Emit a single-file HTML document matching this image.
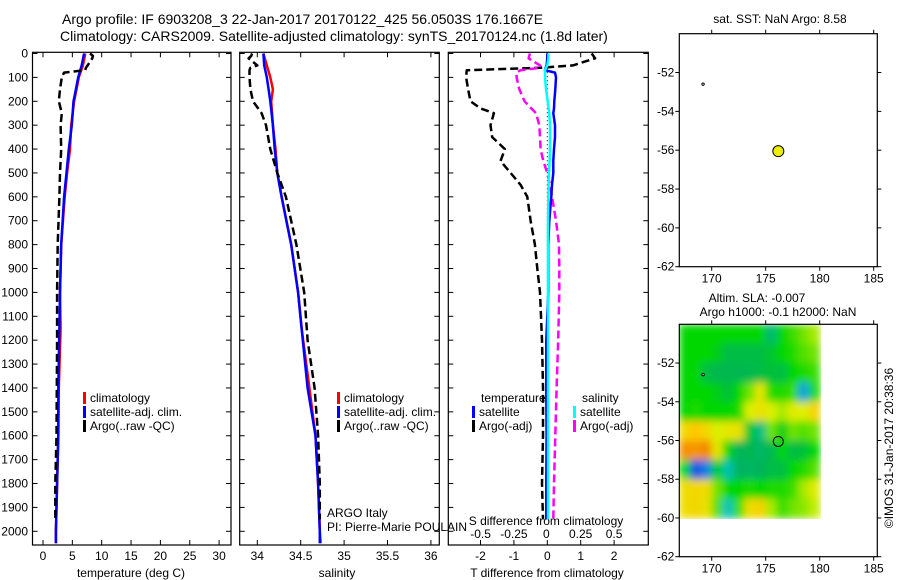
<!DOCTYPE html>
<html><head><meta charset="utf-8">
<style>
html,body{margin:0;padding:0;background:#fff;}
svg{display:block;font-family:"Liberation Sans",sans-serif;font-size:12px;}
</style></head>
<body>
<svg id="fig" width="900" height="580" viewBox="0 0 900 580">
<defs>
<filter id="blur" filterUnits="userSpaceOnUse" x="679.3" y="324.3" width="141.7" height="194.7">
<feGaussianBlur stdDeviation="4" edgeMode="duplicate"/>
</filter>
</defs>
<text x="62" y="24" font-size="14">Argo profile: IF 6903208_3 22-Jan-2017 20170122_425 56.0503S 176.1667E</text>
<text x="60" y="41" font-size="14">Climatology: CARS2009. Satellite-adjusted climatology: synTS_20170124.nc (1.8d later)</text>
<g id="hm" filter="url(#blur)"></g>
<g id="g"></g>
</svg>
<script>
// ---- data ----
const tDepth = [0,10,20,50,60,70,80,100,150,200,250,300,400,500,600,800,1000,1200,1400,1600,1800,1950];
const tArgo  = [8.0,8.5,8.4,7.6,7.3,7.2,3.6,3.2,2.9,2.7,3.2,3.0,3.1,2.9,2.8,2.5,2.4,2.4,2.35,2.3,2.1,2.1];
const cDepth = [0,50,100,150,200,300,400,500,600,800,1000,1150,1400,1600,1800,2000,2050];
const tClim  = [7.2,6.8,6.1,5.7,5.3,4.8,4.6,4.1,3.7,3.1,2.9,3.0,2.7,2.6,2.4,2.2,2.2];
const tSat   = [7.0,6.6,6.0,5.6,5.2,4.9,4.4,4.0,3.6,3.1,2.9,2.8,2.6,2.6,2.4,2.2,2.2];
const sArgo  = [33.94,33.93,33.90,34.00,33.92,33.91,33.91,33.91,33.92,33.95,34.05,34.10,34.15,34.23,34.33,34.45,34.54,34.58,34.66,34.70,34.72,34.72];
const sClim  = [34.07,34.11,34.15,34.18,34.16,34.18,34.21,34.23,34.28,34.39,34.47,34.51,34.60,34.67,34.70,34.72,34.73];
const sSat   = [34.07,34.08,34.11,34.13,34.15,34.18,34.20,34.23,34.28,34.39,34.47,34.51,34.58,34.67,34.70,34.72,34.72];
const dDepth = [0,20,50,60,70,80,100,150,200,230,250,300,350,400,450,500,550,600,700,800,900,1000,1200,1400,1600,1800,1950];
const dTArgo = [1.33,1.43,0.77,-0.22,-2.41,-2.42,-2.43,-2.37,-2.3,-2.0,-1.6,-1.7,-1.65,-1.27,-1.4,-1.1,-0.8,-0.6,-0.5,-0.37,-0.3,-0.22,-0.16,-0.13,-0.13,-0.16,-0.13];
const dTSat  = [0,0,-0.02,-0.05,-0.07,0.23,0.26,0.24,0.21,0.2,0.18,0.23,0.23,0.2,0.18,0.18,0.14,0.12,0.06,0.03,0.03,0.03,-0.03,-0.03,-0.02,-0.03,-0.03];
const dSArgo = [-0.13,-0.14,-0.055,-0.05,-0.2,-0.23,-0.23,-0.21,-0.17,-0.12,-0.085,-0.06,-0.055,-0.05,-0.03,0,0.02,0.035,0.065,0.088,0.09,0.09,0.082,0.07,0.06,0.05,0.045];
const dSSat  = [0.008,0.008,0,-0.01,-0.017,-0.017,-0.017,-0.01,0.003,0.01,0.015,0.02,0.02,0.02,0.017,0.013,0.01,0.008,0.005,0.005,0.005,0.005,0.005,0.005,0.005,0.005,0.005];
const depthTicks = [0,100,200,300,400,500,600,700,800,900,1000,1100,1200,1300,1400,1500,1600,1700,1800,1900,2000];
const tTicks = [0,5,10,15,20,25,30];
const sTicks = [34,34.5,35,35.5,36];
const dTTicks = [-2,-1,0,1,2];
const dSTicks = [-0.5,-0.25,0,0.25,0.5];
const lonTicks = [170,175,180,185];
const latTicks = [-52,-54,-56,-58,-60,-62];
const argoLon = 176.1667, argoLat = -56.0503;
const prevLon = 169.2, prevLat = -52.6;
const slaLat = [-50.5,-51.5,-52.5,-53.5,-54.5,-55.5,-56.5,-57.5,-58.5,-59.5];
const slaRows = [
 [0.02,0.02,0.02,0.02,0.02,0.02,0.02,0.02,-0.08,0.02,0.04,0.06,0.08],
 [0.02,0.02,0.02,0.0,-0.04,-0.04,-0.04,-0.04,-0.02,0.02,0.03,0.05,0.06],
 [0.02,0.02,-0.04,-0.05,-0.05,-0.05,-0.05,-0.04,-0.03,-0.04,0.02,0.03,0.04],
 [0.02,0.02,0.02,0.0,-0.03,0.02,0.06,0.12,0.03,0.03,0.04,-0.22,0.03],
 [0.02,0.03,0.02,0.02,0.02,0.03,0.10,0.13,0.10,0.08,0.11,0.10,0.16],
 [0.15,0.18,0.15,0.10,0.12,0.13,-0.02,-0.10,0.06,0.0,0.06,0.05,0.06],
 [0.25,0.24,0.26,0.12,0.02,-0.06,-0.05,-0.07,-0.05,0.02,-0.04,-0.03,0.02],
 [0.02,-0.3,-0.25,0.0,-0.14,-0.06,-0.07,-0.06,-0.04,-0.04,0.02,0.03,0.05],
 [0.14,0.15,0.14,0.06,0.02,0.02,0.03,0.02,0.03,0.03,0.04,0.08,0.11],
 [0.14,0.15,0.13,0.05,-0.15,0.04,0.14,0.16,0.08,0.04,0.06,0.07,0.09]
];
const slaLon0 = 167;

// ---- helpers ----
const NS = "http://www.w3.org/2000/svg";
const G = document.getElementById('g');
const HM = document.getElementById('hm');
function mk(tag, attrs, parent){ const e=document.createElementNS(NS,tag); for(const k in attrs) e.setAttribute(k,attrs[k]); (parent||G).appendChild(e); return e; }
const yD = d => 53.5 + d*0.2389;
const panels = [
 {x0:32.5,x1:231, key:'temperature'},
 {x0:239.7,x1:439.3, key:'salinity'},
 {x0:448.3,x1:648.3, key:'difference'}
];
const xT = v => 43 + v*5.87;
const xS = v => 257.3 + (v-34)*86.8;
const xDT = v => 547.3 + v*33.4;
const xDS = v => 547.3 + v*133.5;
const AX_TOP = 52.3, AX_BOT = 545;

function line(xs, ys, fx, color, dash, name, w){
  const pts = xs.map((v,i)=>fx(v).toFixed(1)+','+yD(ys[i]).toFixed(1)).join(' ');
  const p = mk('polyline',{points:pts,fill:'none',stroke:color,'stroke-width':w||2.5,'stroke-dasharray':dash||'none','stroke-linejoin':'round'});
  
  
  return p;
}
function txt(x,y,s,anchor,name,extra){
  const t = mk('text',Object.assign({x:x,y:y,'text-anchor':anchor||'start'},extra||{}));
  t.textContent = s;
  
  
  return t;
}

panels.forEach((p,i)=>{
  const r = mk('rect',{x:p.x0,y:AX_TOP,width:p.x1-p.x0,height:AX_BOT-AX_TOP,fill:'none',stroke:'#000','stroke-width':1.2});
  
  
  depthTicks.forEach(d=>{
    mk('line',{x1:p.x0,x2:p.x0+5,y1:yD(d),y2:yD(d),stroke:'#000'});
    mk('line',{x1:p.x1,x2:p.x1-5,y1:yD(d),y2:yD(d),stroke:'#000'});
  });
});
depthTicks.forEach(d=>{ txt(28, yD(d)+4, String(d), 'end', 'depth-tick-label'); });

tTicks.forEach(v=>{ mk('line',{x1:xT(v),x2:xT(v),y1:AX_BOT,y2:AX_BOT-5,stroke:'#000'}); mk('line',{x1:xT(v),x2:xT(v),y1:AX_TOP,y2:AX_TOP+5,stroke:'#000'}); txt(xT(v),560,String(v),'middle','temperature-tick-label'); });
txt(131,577,'temperature (deg C)','middle','temperature-axis-title');
sTicks.forEach(v=>{ mk('line',{x1:xS(v),x2:xS(v),y1:AX_BOT,y2:AX_BOT-5,stroke:'#000'}); mk('line',{x1:xS(v),x2:xS(v),y1:AX_TOP,y2:AX_TOP+5,stroke:'#000'}); txt(xS(v),560,String(v),'middle','salinity-tick-label'); });
txt(337,577,'salinity','middle','salinity-axis-title');
dTTicks.forEach(v=>{ mk('line',{x1:xDT(v),x2:xDT(v),y1:AX_BOT,y2:AX_BOT-5,stroke:'#000'}); mk('line',{x1:xDT(v),x2:xDT(v),y1:AX_TOP,y2:AX_TOP+5,stroke:'#000'}); txt(xDT(v),560,String(v),'middle','t-diff-tick-label'); });
dSTicks.forEach(v=>{ txt(xDS(v)+(v===0?-1:0),538,String(v),'middle','s-diff-tick-label'); });
txt(547,577,'T difference from climatology','middle','t-diff-axis-title');
txt(546,525,'S difference from climatology','middle','s-diff-axis-title');

const zl = mk('line',{x1:xDT(0),x2:xDT(0),y1:AX_TOP,y2:yD(1400),stroke:'#000','stroke-width':1,'stroke-dasharray':'1,3'});



line(tClim, cDepth, xT, '#f00', null, 'temperature-climatology-line');
line(tSat, cDepth, xT, '#00f', null, 'temperature-satellite-line');
line(tArgo, tDepth, xT, '#000', '8,4', 'temperature-argo-line');
line(sClim, cDepth, xS, '#f00', null, 'salinity-climatology-line');
line(sSat, cDepth, xS, '#00f', null, 'salinity-satellite-line');
line(sArgo, tDepth, xS, '#000', '8,4', 'salinity-argo-line');
line(dTArgo, dDepth, xDT, '#000', '8,4', 't-diff-argo-line');
line(dSArgo, dDepth, xDS, '#f0f', '8,4', 's-diff-argo-line');
line(dTSat, dDepth, xDT, '#00f', null, 't-diff-satellite-line');
line(dSSat, dDepth, xDS, '#0ff', null, 's-diff-satellite-line');

function leg(x,y,color,label,name){
  const b = mk('rect',{x:x,y:y-10,width:3,height:12,fill:color});
  
  
  txt(x+7,y,label,'start',name);
}
leg(83,402,'#f00','climatology','legend-climatology');
leg(83,416,'#00f','satellite-adj. clim.','legend-satellite-adj');
leg(83,430,'#000','Argo(..raw -QC)','legend-argo');
leg(337,402,'#f00','climatology','legend-sal-climatology');
leg(337,416,'#00f','satellite-adj. clim.','legend-sal-satellite-adj');
leg(337,430,'#000','Argo(..raw -QC)','legend-sal-argo');
txt(481,402,'temperature','start','legend-temperature-heading');
leg(472,416,'#00f','satellite','legend-t-satellite');
leg(472,430,'#000','Argo(-adj)','legend-t-argo');
txt(582,402,'salinity','start','legend-salinity-heading');
leg(573,416,'#0ff','satellite','legend-s-satellite');
leg(573,430,'#f0f','Argo(-adj)','legend-s-argo');
txt(327,517,'ARGO Italy','start','data-centre-label');
txt(327,531,'PI: Pierre-Marie POULAIN','start','pi-label');

const MX0=679.3, MX1=877.3;
const xL = lon => 711.7 + (lon-170)*10.8;
function mapAxes(top, bot, name){
  const yL = lat => top + (-50 - lat)*(bot-top)/12;
  const r = mk('rect',{x:MX0,y:top,width:MX1-MX0,height:bot-top,fill:'none',stroke:'#000','stroke-width':1.2});
  
  
  lonTicks.forEach(v=>{ mk('line',{x1:xL(v),x2:xL(v),y1:bot,y2:bot+4,stroke:'#000'}); mk('line',{x1:xL(v),x2:xL(v),y1:top,y2:top-4,stroke:'#000'}); txt(xL(v),bot+16,String(v),'middle',name+'-lon-label'); });
  latTicks.forEach(v=>{ mk('line',{x1:MX0,x2:MX0-4,y1:yL(v),y2:yL(v),stroke:'#000'}); mk('line',{x1:MX1,x2:MX1+4,y1:yL(v),y2:yL(v),stroke:'#000'}); txt(MX0-5,yL(v)+4,String(v),'end',name+'-lat-label'); });
  return yL;
}
const T2=324.3, B2=556.7;
const yL2 = lat => T2 + (-50 - lat)*(B2-T2)/12;
function slaColor(v){
  const stops=[[-0.3,[20,80,230]],[-0.18,[0,200,220]],[-0.06,[0,180,90]],[0.02,[0,215,0]],[0.1,[220,240,0]],[0.18,[255,200,0]],[0.28,[240,120,0]]];
  if(v<=stops[0][0]) return 'rgb('+stops[0][1]+')';
  for(let i=1;i<stops.length;i++){ if(v<=stops[i][0]){ const a=stops[i-1],b=stops[i],t=(v-a[0])/(b[0]-a[0]); return 'rgb('+a[1].map((c,k)=>Math.round(c+(b[1][k]-c)*t)).join(',')+')'; } }
  return 'rgb('+stops[stops.length-1][1]+')';
}
slaRows.forEach((row,ri)=>{
  row.forEach((v,ci)=>{
    const x0 = Math.max(MX0, xL(slaLon0+ci)), x1 = xL(slaLon0+ci+1);
    const c = mk('rect',{x:x0,y:yL2(slaLat[ri]+0.5),width:x1-x0+0.5,height:yL2(slaLat[ri]-0.5)-yL2(slaLat[ri]+0.5)+0.5,fill:slaColor(v)}, HM);
    
    
  });
});
const yL1 = mapAxes(33.7, 266.7, 'sst-map');
mapAxes(T2, B2, 'sla-map');
let c1 = mk('circle',{cx:xL(argoLon),cy:yL1(argoLat),r:5.5,fill:'#ee0',stroke:'#000','stroke-width':1});


let p1 = mk('circle',{cx:xL(prevLon),cy:yL1(prevLat),r:1.2,fill:'none',stroke:'#000','stroke-width':1});


let c2 = mk('circle',{cx:xL(argoLon),cy:yL2(argoLat),r:5,fill:'none',stroke:'#000','stroke-width':1});


let p2 = mk('circle',{cx:xL(prevLon),cy:yL2(prevLat),r:1.2,fill:'#fff',stroke:'#000','stroke-width':1});



txt(780,23,'sat. SST: NaN Argo: 8.58','middle','sst-map-title');
txt(757,302,'Altim. SLA: -0.007','middle','sla-map-title-1');
txt(778,316,'Argo h1000: -0.1 h2000: NaN','middle','sla-map-title-2');
txt(0,0,'\u00A9IMOS 31-Jan-2017 20:38:36','middle','copyright-label',{transform:'translate(893,448) rotate(-90)'});
</script>
</body></html>
